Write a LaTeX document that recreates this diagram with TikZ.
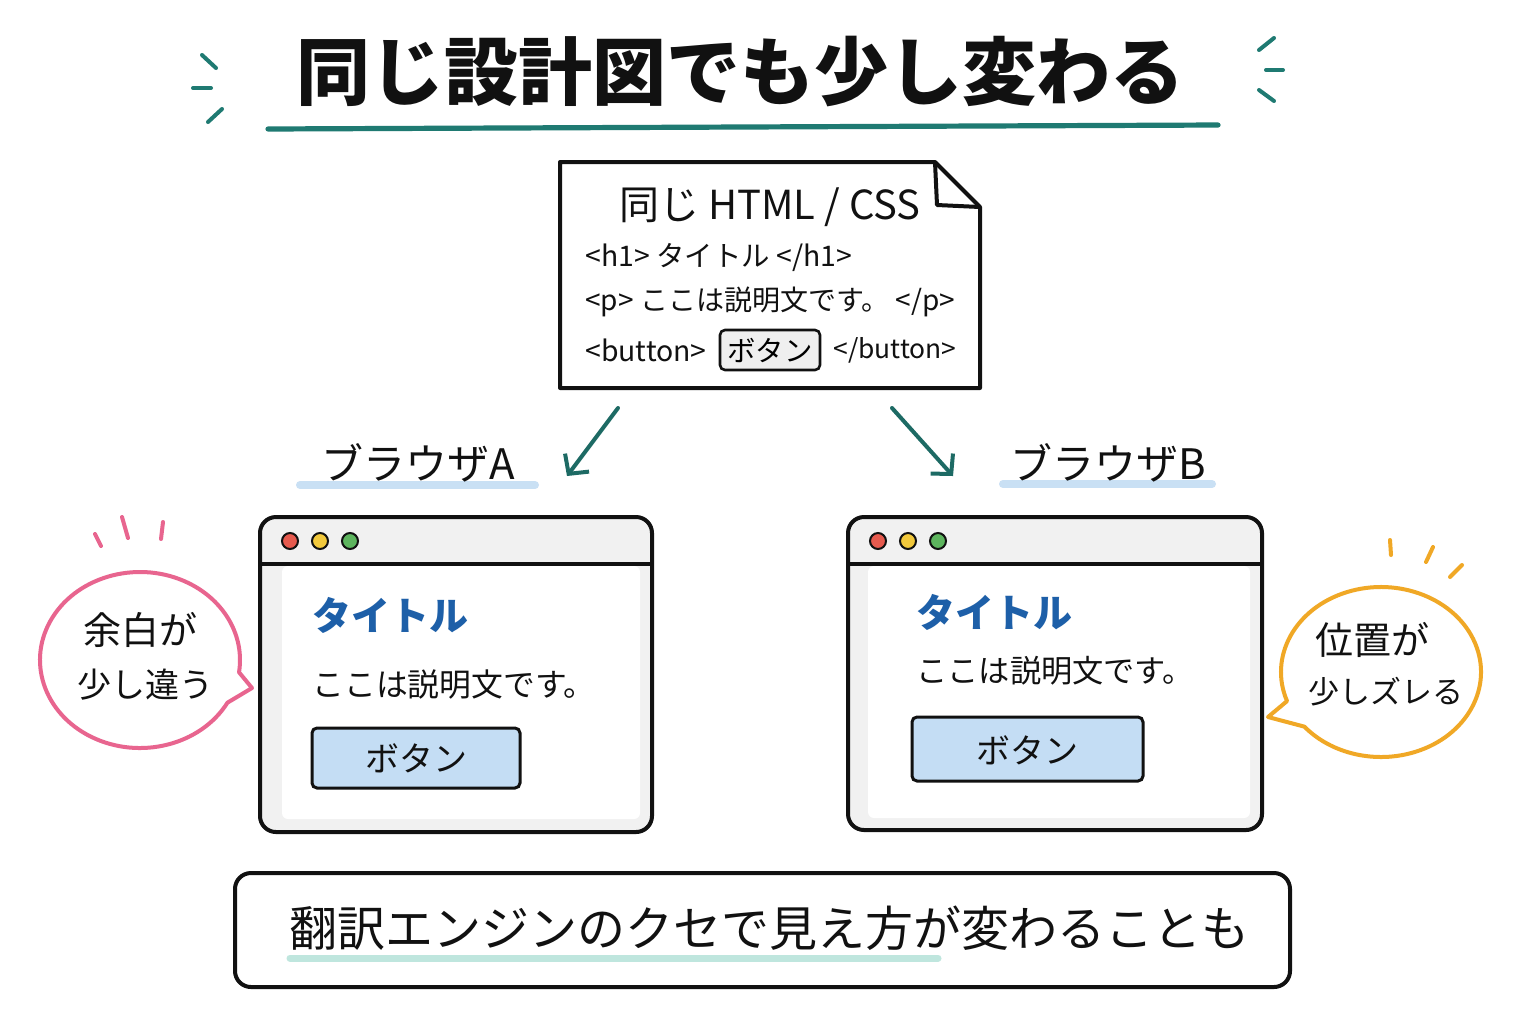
\documentclass[tikz,border=0pt]{standalone}
\usepackage{fontspec}
\setmainfont{Noto Sans CJK JP}
\usetikzlibrary{arrows.meta}
\definecolor{titleteal}{HTML}{1F7A72}
\definecolor{arrowteal}{HTML}{1D6A64}
\definecolor{labelblue}{HTML}{C9E0F4}
\definecolor{btnblue}{HTML}{C4DDF4}
\definecolor{headblue}{HTML}{1D5FA8}
\definecolor{winfill}{HTML}{F1F1F1}
\definecolor{docbtn}{HTML}{EFEFEF}
\definecolor{pinkc}{HTML}{E8658F}
\definecolor{orangec}{HTML}{F0A826}
\definecolor{mint}{HTML}{BFE6DE}
\definecolor{dotred}{HTML}{E65A4E}
\definecolor{dotyellow}{HTML}{F2C93C}
\definecolor{dotgreen}{HTML}{5DB55E}
\definecolor{ink}{HTML}{111111}
\begin{document}
\begin{tikzpicture}[x=0.5pt,y=-0.5pt,
  txt/.style={inner sep=0pt,text=ink},
  winbox/.style={draw=ink,line width=2pt,rounded corners=8pt,fill=winfill},
  btn/.style={draw=ink,line width=1.5pt,rounded corners=2.5pt,fill=btnblue},
  flow/.style={draw=arrowteal,line width=2pt,line cap=round,-{Straight Barb[length=7pt,width=15pt,line width=2pt]}},
  tick/.style={line width=2pt,line cap=round},
  dot/.style={draw=ink,line width=1pt}]
\useasboundingbox[fill=white] (0,0) rectangle (1536,1024);

% ---------- title ----------
\node[txt] (title) at (740,72) {\fontsize{37}{40}\selectfont\bfseries 同じ設計図でも少し変わる};
\draw[titleteal,line width=2.6pt,line cap=round] (268,129) -- (1218,125);
\draw[titleteal,tick] (202,55) -- (216,68);
\draw[titleteal,tick] (193,88) -- (211,88);
\draw[titleteal,tick] (208,122) -- (222,109);
\draw[titleteal,tick] (1274,38) -- (1259,50);
\draw[titleteal,tick] (1266,70) -- (1283,70);
\draw[titleteal,tick] (1259,90) -- (1274,101);

% ---------- document ----------
\draw[ink,line width=2pt,line join=round,fill=white] (560,162) -- (935,162) -- (980,207) -- (980,388) -- (560,388) -- cycle;
\draw[ink,line width=2pt,line join=round] (935,162) -- (937,205) -- (980,207);
\coordinate (doc) at (770,275);
\node[txt] (doctitle) at (770,207) {\fontsize{20}{22}\selectfont 同じ HTML / CSS};
\node[txt,anchor=west] (l1) at (585,257) {\fontsize{14.2}{17}\selectfont <h1> タイトル </h1>};
\node[txt,anchor=west] (l2) at (585,302) {\fontsize{14}{17}\selectfont <p> ここは説明文です。 </p>};
\node[txt,anchor=west] (l3a) at (585,350) {\fontsize{14.2}{17}\selectfont <button>};
\node[draw=ink,line width=1.3pt,rounded corners=2.5pt,fill=docbtn,minimum width=50pt,minimum height=20pt,inner sep=0pt] (docbtn) at (770,350) {\fontsize{14.2}{17}\selectfont ボタン};
\node[txt,anchor=east] (l3b) at (957,350) {\fontsize{13.2}{16}\selectfont </button>};

% ---------- arrows ----------
\coordinate (a1s) at (618,408);
\coordinate (a1e) at (567,476);
\coordinate (a2s) at (892,408);
\coordinate (a2e) at (953,476);
\draw[flow] (a1s) -- (a1e);
\draw[flow] (a2s) -- (a2e);

% ---------- browser labels ----------
\draw[labelblue,line width=4pt,line cap=round] (300,485) -- (535,485);
\node[txt] (labA) at (418,463) {\fontsize{21}{24}\selectfont ブラウザA};
\draw[labelblue,line width=4pt,line cap=round] (1003,484) -- (1212,484);
\node[txt] (labB) at (1108,463) {\fontsize{21}{24}\selectfont ブラウザB};

% ---------- browser A ----------
\draw[winbox] (260,517) rectangle (652,832);
\fill[white,rounded corners=3pt] (282,566) rectangle (640,819);
\draw[ink,line width=2pt] (260,564) -- (652,564);
\draw[dot,fill=dotred] (290,541) circle (8);
\draw[dot,fill=dotyellow] (320,541) circle (8);
\draw[dot,fill=dotgreen] (350,541) circle (8);
\node[txt,anchor=west,text=headblue] (hA) at (312,615) {\fontsize{19.5}{22}\selectfont\bfseries タイトル};
\node[txt,anchor=west] (pA) at (312,684) {\fontsize{15.9}{18}\selectfont ここは説明文です。};
\draw[btn] (312,728) rectangle (520,788);
\node[txt] (bA) at (416,758) {\fontsize{17}{20}\selectfont ボタン};

% ---------- browser B ----------
\draw[winbox] (848,517) rectangle (1262,830);
\fill[white,rounded corners=3pt] (868,566) rectangle (1250,818);
\draw[ink,line width=2pt] (848,564) -- (1262,564);
\draw[dot,fill=dotred] (878,541) circle (8);
\draw[dot,fill=dotyellow] (908,541) circle (8);
\draw[dot,fill=dotgreen] (938,541) circle (8);
\node[txt,anchor=west,text=headblue] (hB) at (916,612) {\fontsize{19.5}{22}\selectfont\bfseries タイトル};
\node[txt,anchor=west] (pB) at (916,671) {\fontsize{15.6}{18}\selectfont ここは説明文です。};
\draw[btn] (912,717) rectangle (1143,781);
\node[txt] (bB) at (1027,750) {\fontsize{17}{20}\selectfont ボタン};

% ---------- left bubble ----------
\draw[pinkc,line width=2pt,line join=round,fill=white]
  (252,688) -- ({140+100*cos(29)},{660+88*sin(29)})
  arc[start angle=29,end angle=368,x radius=100,y radius=88] -- cycle;
\node[txt] (bub1a) at (140,630) {\fontsize{19}{22}\selectfont 余白が};
\node[txt] (bub1b) at (145,685) {\fontsize{17}{20}\selectfont 少し違う};
\draw[pinkc,tick] (95,534) -- (101,546);
\draw[pinkc,tick] (122,517) -- (128,538);
\draw[pinkc,tick] (163,522) -- (161,539);

% ---------- right bubble ----------
\draw[orangec,line width=2pt,line join=round,fill=white]
  (1268,717) -- ({1381+100*cos(160)},{672+85*sin(160)})
  arc[start angle=160,end angle=500,x radius=100,y radius=85] -- cycle;
\node[txt] (bub2a) at (1372,640) {\fontsize{19}{22}\selectfont 位置が};
\node[txt] (bub2b) at (1386,692) {\fontsize{15.5}{18}\selectfont 少しズレる};
\draw[orangec,tick] (1390,540) -- (1391,555);
\draw[orangec,tick] (1433,547) -- (1426,562);
\draw[orangec,tick] (1462,565) -- (1450,577);

% ---------- bottom note ----------
\draw[ink,line width=2pt,rounded corners=8pt,fill=white] (235,873) rectangle (1290,987);
\draw[mint,line width=3.5pt,line cap=round] (290,958) -- (938,958);
\node[txt] (note) at (769,928) {\fontsize{24}{26}\selectfont 翻訳エンジンのクセで見え方が変わることも};
\end{tikzpicture}
\end{document}
